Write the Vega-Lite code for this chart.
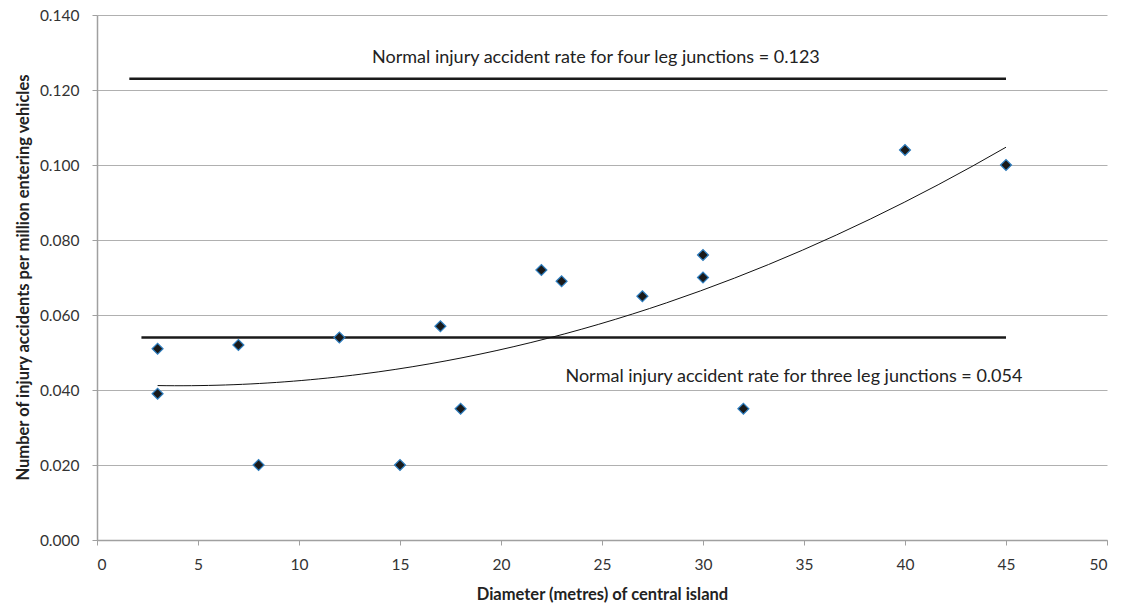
{
  "$schema": "https://vega.github.io/schema/vega-lite/v6.json",
  "width": 1010,
  "height": 525,
  "autosize": {"type": "none"},
  "padding": {"left": 97, "top": 15, "right": 16, "bottom": 64},
  "background": "white",
  "config": {
    "view": {"stroke": null},
    "font": "Lato",
    "axis": {
      "labelFont": "Lato",
      "titleFont": "Lato",
      "labelFontSize": 15.5,
      "labelColor": "#333333",
      "titleColor": "#222222",
      "domainColor": "#a0a0a0",
      "domainWidth": 1.5,
      "tickColor": "#a0a0a0",
      "tickSize": 5,
      "gridColor": "#b0b0b0",
      "gridWidth": 1
    }
  },
  "datasets": {
    "sites": [
      {"diameter": 3, "rate": 0.051},
      {"diameter": 3, "rate": 0.039},
      {"diameter": 7, "rate": 0.052},
      {"diameter": 8, "rate": 0.020},
      {"diameter": 12, "rate": 0.054},
      {"diameter": 15, "rate": 0.020},
      {"diameter": 17, "rate": 0.057},
      {"diameter": 18, "rate": 0.035},
      {"diameter": 22, "rate": 0.072},
      {"diameter": 23, "rate": 0.069},
      {"diameter": 27, "rate": 0.065},
      {"diameter": 30, "rate": 0.076},
      {"diameter": 30, "rate": 0.070},
      {"diameter": 32, "rate": 0.035},
      {"diameter": 40, "rate": 0.104},
      {"diameter": 45, "rate": 0.100}
    ],
    "norms": [
      {"junction": "four leg", "rate": 0.123, "from": 1.6, "to": 45, "labelAt": 24.7, "labelRate": 0.1285,
       "label": "Normal injury accident rate for four leg junctions = 0.123"},
      {"junction": "three leg", "rate": 0.054, "from": 2.2, "to": 45, "labelAt": 34.5, "labelRate": 0.0435,
       "label": "Normal injury accident rate for three leg junctions = 0.054"}
    ]
  },
  "layer": [
    {
      "data": {"name": "norms"},
      "mark": {"type": "rule", "color": "#1a1a1a", "strokeWidth": 2.5},
      "encoding": {
        "x": {"field": "from", "type": "quantitative",
              "scale": {"domain": [0, 50], "nice": false},
              "axis": {"values": [0, 5, 10, 15, 20, 25, 30, 35, 40, 45, 50], "grid": false,
                       "labelPadding": 12,
                       "title": "Diameter (metres) of central island",
                       "titleFontSize": 16.5, "titleFontWeight": "bold", "titlePadding": 14}},
        "x2": {"field": "to"},
        "y": {"field": "rate", "type": "quantitative",
              "scale": {"domain": [0, 0.14], "nice": false},
              "axis": {"values": [0, 0.02, 0.04, 0.06, 0.08, 0.1, 0.12, 0.14], "format": ".3f",
                       "grid": true, "labelPadding": 13,
                       "title": "Number of injury accidents per million entering vehicles",
                       "titleFontSize": 16.5, "titleFontWeight": "bold", "titleX": -66, "titleY": 262}}
      }
    },
    {
      "data": {"name": "norms"},
      "mark": {"type": "text", "font": "Lato", "fontSize": 18, "color": "#222222", "align": "center", "baseline": "middle"},
      "encoding": {
        "x": {"field": "labelAt", "type": "quantitative"},
        "y": {"field": "labelRate", "type": "quantitative"},
        "text": {"field": "label"}
      }
    },
    {
      "data": {"name": "sites"},
      "transform": [
        {"regression": "rate", "on": "diameter", "method": "poly", "order": 2, "extent": [3, 45]}
      ],
      "mark": {"type": "line", "color": "#111111", "strokeWidth": 1},
      "encoding": {
        "x": {"field": "diameter", "type": "quantitative"},
        "y": {"field": "rate", "type": "quantitative"}
      }
    },
    {
      "data": {"name": "sites"},
      "mark": {"type": "point", "shape": "diamond", "filled": true, "size": 120,
               "fill": "#1a1a1a", "stroke": "#2f7fc1", "strokeWidth": 1.2, "opacity": 1},
      "encoding": {
        "x": {"field": "diameter", "type": "quantitative"},
        "y": {"field": "rate", "type": "quantitative"}
      }
    }
  ]
}
